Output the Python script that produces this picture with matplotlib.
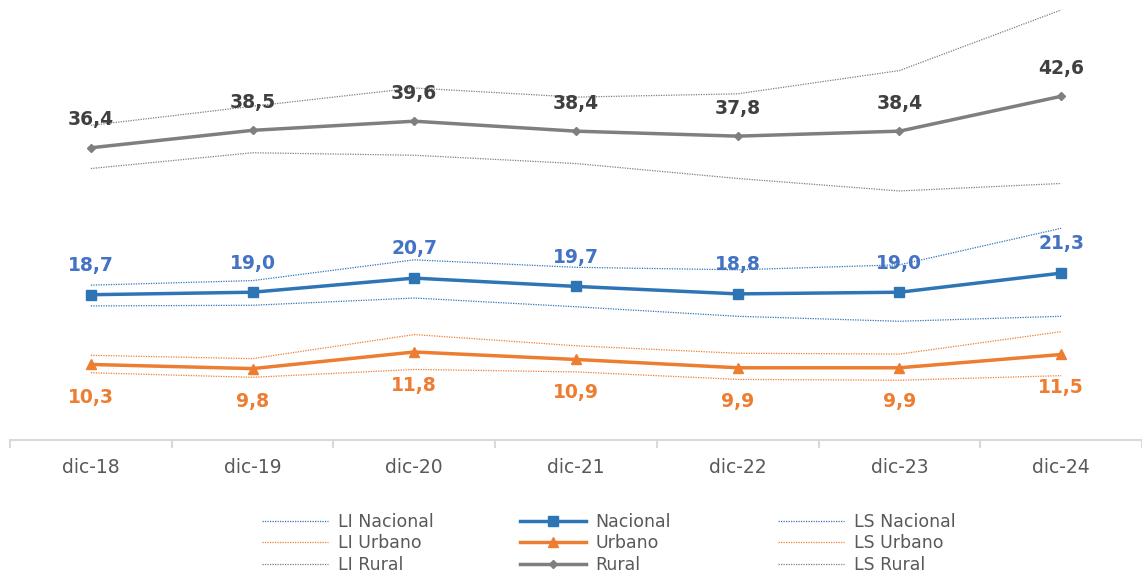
import numpy as np
import matplotlib.pyplot as plt
from matplotlib.lines import Line2D

# datos
cats = ['dic-18', 'dic-19', 'dic-20', 'dic-21', 'dic-22', 'dic-23', 'dic-24']
nacional = [18.7, 19.0, 20.7, 19.7, 18.8, 19.0, 21.3]
urbano = [10.3, 9.8, 11.8, 10.9, 9.9, 9.9, 11.5]
rural = [36.4, 38.5, 39.6, 38.4, 37.8, 38.4, 42.6]
li_nacional = [17.35, 17.43, 18.3, 17.25, 16.1, 15.5, 16.1]
ls_nacional = [19.85, 20.4, 22.9, 22.0, 21.7, 22.3, 26.7]
li_urbano = [9.3, 8.75, 9.7, 9.4, 8.5, 8.4, 8.95]
ls_urbano = [11.4, 11.0, 13.9, 12.55, 11.65, 11.55, 14.25]
li_rural = [33.9, 35.8, 35.5, 34.5, 32.7, 31.2, 32.1]
ls_rural = [39.1, 41.4, 43.6, 42.5, 42.9, 45.7, 53.0]

c_nac = '#2E75B6'
c_nac_lbl = '#4472C4'
c_urb = '#ED7D31'
c_rur = '#7F7F7F'
c_rur_lbl = '#404040'
c_txt = '#595959'

plt.rcParams['font.family'] = ['DejaVu Sans']

fig = plt.figure(figsize=(11.42, 5.74), dpi=100)
ax = fig.add_axes([10 / 1142, 1 - 440 / 574, 1 - 10 / 1142, 440 / 574])
x = np.arange(len(cats))

dot = dict(linestyle=(0, (1, 1)), linewidth=0.9)
ax.plot(x, li_nacional, color=c_nac, **dot)
ax.plot(x, ls_nacional, color=c_nac, **dot)
ax.plot(x, li_urbano, color=c_urb, **dot)
ax.plot(x, ls_urbano, color=c_urb, **dot)
ax.plot(x, li_rural, color=c_rur, **dot)
ax.plot(x, ls_rural, color=c_rur, **dot)

ax.plot(x, nacional, color=c_nac, lw=2.5, marker='s', ms=6.5)
ax.plot(x, urbano, color=c_urb, lw=2.5, marker='^', ms=7.5)
ax.plot(x, rural, color=c_rur, lw=2.5, marker='D', ms=4.5)

def fmt(v):
    return f'{v:.1f}'.replace('.', ',')

for xi, v in zip(x, rural):
    ax.annotate(fmt(v), (xi, v), xytext=(0, 20), textcoords='offset points',
                ha='center', va='center', fontsize=13.5, fontweight='bold', color=c_rur_lbl)
for xi, v in zip(x, nacional):
    ax.annotate(fmt(v), (xi, v), xytext=(0, 21), textcoords='offset points',
                ha='center', va='center', fontsize=13.5, fontweight='bold', color=c_nac_lbl)
for xi, v in zip(x, urbano):
    ax.annotate(fmt(v), (xi, v), xytext=(0, -24), textcoords='offset points',
                ha='center', va='center', fontsize=13.5, fontweight='bold', color=c_urb)

ax.set_xlim(-0.5, len(cats) - 0.5)
ax.set_ylim(1.2, 54.2)
for s in ['top', 'left', 'right']:
    ax.spines[s].set_visible(False)
ax.spines['bottom'].set_color('#D9D9D9')
ax.spines['bottom'].set_linewidth(1.5)
ax.set_yticks([])
ax.set_xticks(x)
ax.set_xticklabels(cats, fontsize=13.5, color=c_txt)
ax.tick_params(axis='x', which='major', length=0, pad=13)
ax.set_xticks(np.arange(-0.5, len(cats)), minor=True)
ax.tick_params(axis='x', which='minor', length=6, width=1.5, color='#D9D9D9')

# leyenda en tres columnas
def h_dot(c):
    return Line2D([], [], color=c, **dot)

cols = [
    ([h_dot(c_nac), h_dot(c_urb), h_dot(c_rur)], ['LI Nacional', 'LI Urbano', 'LI Rural'], 262),
    ([Line2D([], [], color=c_nac, lw=2.5, marker='s', ms=6.5),
      Line2D([], [], color=c_urb, lw=2.5, marker='^', ms=7.5),
      Line2D([], [], color=c_rur, lw=2.5, marker='D', ms=4.5)], ['Nacional', 'Urbano', 'Rural'], 520),
    ([h_dot(c_nac), h_dot(c_urb), h_dot(c_rur)], ['LS Nacional', 'LS Urbano', 'LS Rural'], 778),
]
for hs, ls, px in cols:
    leg = fig.legend(hs, ls, loc='upper left', bbox_to_anchor=(px / 1142, 1 - 513 / 574),
                     frameon=False, fontsize=12.5, handlelength=3.8, handletextpad=0.55,
                     labelspacing=0.2, borderpad=0, borderaxespad=0)
    for t in leg.get_texts():
        t.set_color(c_txt)

fig.savefig('out.png', dpi=100)
